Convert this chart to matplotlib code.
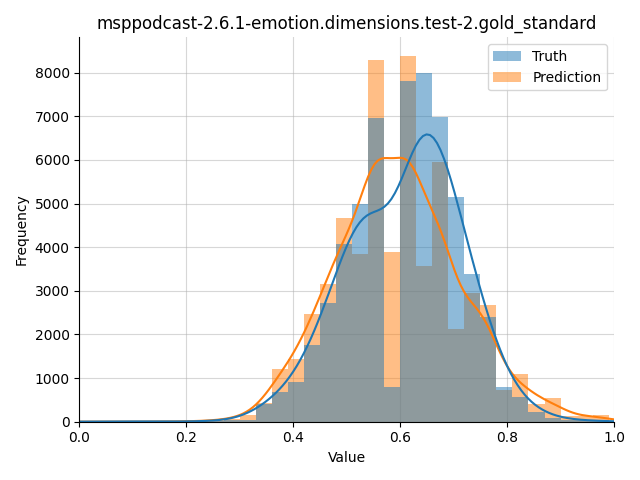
import matplotlib
matplotlib.use("Agg")
import matplotlib.pyplot as plt
from matplotlib.patches import Patch
import numpy as np
import pandas as pd
import seaborn as sns


TITLE = "msppodcast-2.6.1-emotion.dimensions.test-2.gold_standard"

# histogram bins of width 0.03 from 0.00 to 0.99
bin_edges = np.round(np.arange(34) * 0.03, 2)
bin_centers = (bin_edges[:-1] + bin_edges[1:]) / 2

truth_counts = [
    3, 6, 10, 8, 5, 3, 4, 8, 15, 40,
    45, 400, 670, 920, 1750, 2730, 4080, 4990, 6950, 790,
    7800, 8000, 6990, 5160, 3390, 2410, 795, 560, 215, 85,
    45, 30, 20,
]
prediction_counts = [
    0, 0, 1, 2, 3, 5, 8, 15, 30, 70,
    145, 430, 1215, 1445, 2480, 3165, 4680, 3850, 8300, 3900,
    8390, 3560, 5960, 2120, 2940, 2680, 720, 1100, 413, 550,
    122, 122, 145,
]

# label, counts, colour, kde bandwidth adjustment
series = [
    ("Prediction", prediction_counts, "C1", 0.4),
    ("Truth", truth_counts, "C0", 0.6),
]

fig, ax = plt.subplots(figsize=(6.4, 4.8), dpi=100)
ax.grid(True, alpha=0.5)
ax.set_axisbelow(True)

for label, counts, color, bw in series:
    df = pd.DataFrame({"Value": bin_centers, "Count": counts})
    sns.histplot(
        data=df,
        x="Value",
        weights="Count",
        bins=list(bin_edges),
        kde=True,
        kde_kws={"bw_adjust": bw, "cut": 2},
        color=color,
        alpha=0.5,
        linewidth=0,
        line_kws={"linewidth": 1.5},
        ax=ax,
    )

handles = [
    Patch(facecolor="C0", alpha=0.5, label="Truth"),
    Patch(facecolor="C1", alpha=0.5, label="Prediction"),
]
ax.legend(handles=handles, loc="upper right")

ax.set_xlim(0, 1)
ax.set_xlabel("Value")
ax.set_ylabel("Frequency")
ax.set_title(TITLE)
sns.despine(ax=ax)

fig.tight_layout()
fig.savefig("out.png")
